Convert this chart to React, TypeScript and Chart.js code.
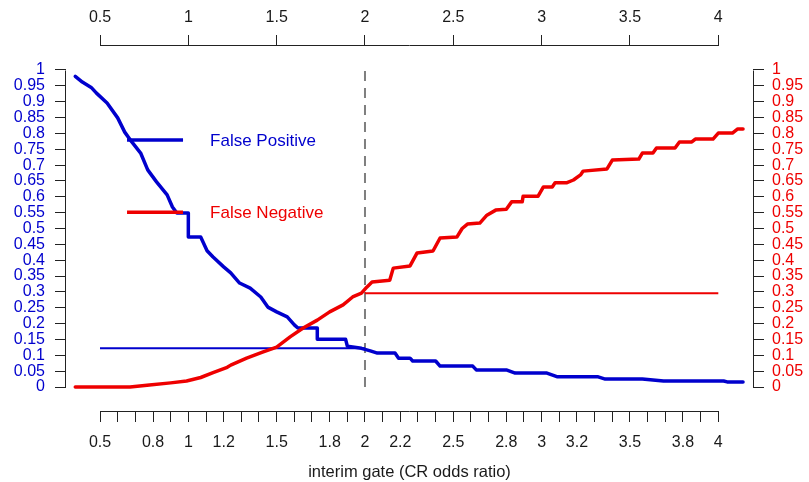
import React, { useEffect, useRef } from 'react';
import { Chart, registerables } from 'chart.js';

Chart.register(...registerables);

// ---------- data ----------
const FP_X = [0.36, 0.40, 0.45, 0.48, 0.54, 0.60, 0.64, 0.68, 0.73, 0.77, 0.82, 0.88, 0.91, 0.935, 1.0, 1.0, 1.07, 1.106, 1.14, 1.20, 1.24, 1.29, 1.35, 1.41, 1.45, 1.50, 1.56, 1.60, 1.62, 1.73, 1.73, 1.89, 1.90, 1.98, 2.03, 2.07, 2.17, 2.19, 2.255, 2.27, 2.40, 2.425, 2.61, 2.63, 2.80, 2.85, 3.03, 3.09, 3.32, 3.36, 3.57, 3.69, 4.03, 4.05, 4.14];
const FP_Y = [0.98, 0.962, 0.945, 0.927, 0.896, 0.849, 0.804, 0.773, 0.738, 0.685, 0.647, 0.606, 0.568, 0.549, 0.549, 0.473, 0.473, 0.43, 0.41, 0.379, 0.36, 0.328, 0.312, 0.284, 0.252, 0.237, 0.221, 0.196, 0.186, 0.186, 0.151, 0.151, 0.129, 0.122, 0.114, 0.107, 0.107, 0.091, 0.091, 0.082, 0.082, 0.066, 0.066, 0.054, 0.054, 0.044, 0.044, 0.032, 0.032, 0.025, 0.025, 0.019, 0.019, 0.016, 0.016];

const FN_X = [0.36, 0.67, 0.78, 0.90, 0.99, 1.07, 1.14, 1.22, 1.24, 1.33, 1.42, 1.50, 1.576, 1.65, 1.73, 1.80, 1.876, 1.93, 1.98, 2.01, 2.04, 2.14, 2.16, 2.255, 2.295, 2.385, 2.425, 2.52, 2.55, 2.58, 2.65, 2.69, 2.74, 2.80, 2.83, 2.89, 2.895, 2.98, 3.01, 3.06, 3.076, 3.14, 3.18, 3.22, 3.235, 3.37, 3.40, 3.55, 3.57, 3.63, 3.65, 3.755, 3.78, 3.85, 3.87, 3.97, 4.0, 4.08, 4.11, 4.14];
const FN_Y = [0.0, 0.0, 0.006, 0.013, 0.019, 0.03, 0.045, 0.062, 0.069, 0.091, 0.11, 0.126, 0.158, 0.186, 0.211, 0.237, 0.259, 0.284, 0.296, 0.315, 0.331, 0.337, 0.375, 0.382, 0.423, 0.429, 0.47, 0.473, 0.50, 0.514, 0.517, 0.542, 0.558, 0.561, 0.584, 0.584, 0.602, 0.602, 0.631, 0.631, 0.644, 0.644, 0.653, 0.669, 0.681, 0.688, 0.716, 0.719, 0.738, 0.738, 0.754, 0.754, 0.773, 0.773, 0.782, 0.782, 0.801, 0.801, 0.814, 0.814];

const GATE = 2;
const FP_AT_GATE = 0.122;
const FN_AT_GATE = 0.296;
const FP_REF_X = [0.5, 2];
const FN_REF_X = [2, 4];
const GATE_Y = [0, 1];

const Y_TICKS = [0, 0.05, 0.1, 0.15, 0.2, 0.25, 0.3, 0.35, 0.4, 0.45, 0.5, 0.55, 0.6, 0.65, 0.7, 0.75, 0.8, 0.85, 0.9, 0.95, 1];
const TOP_TICKS = [0.5, 1, 1.5, 2, 2.5, 3, 3.5, 4];
const BOTTOM_TICKS = [0.5, 0.6, 0.7, 0.8, 0.9, 1, 1.1, 1.2, 1.3, 1.4, 1.5, 1.6, 1.7, 1.8, 1.9, 2, 2.1, 2.2, 2.3, 2.4, 2.5, 2.6, 2.7, 2.8, 2.9, 3, 3.1, 3.2, 3.3, 3.4, 3.5, 3.6, 3.7, 3.8, 3.9, 4];
const BOTTOM_LABELS = [0.5, 0.8, 1, 1.2, 1.5, 1.8, 2, 2.2, 2.5, 2.8, 3, 3.2, 3.5, 3.8, 4];

const SERIES_NAMES = ['False Positive', 'False Negative'];
const X_TITLE = 'interim gate (CR odds ratio)';

// ---------- styles ----------
const BLUE = '#0000CD';
const RED = '#EE0000';
const FONT = '"Liberation Sans", Arial, sans-serif';
const AXIS_COLOR = '#222222';

const X_MIN = 0.3075;
const X_MAX = 4.1964;
const Y_MIN = -0.0757;
const Y_MAX = 1.0757;

// legend anchor in data units
const LEGEND_X0 = 0.653;
const LEGEND_X1 = 0.97;
const LEGEND_TEXT_X = 1.123;
const LEGEND_Y = [0.779, 0.551];

const pts = (xs: number[], ys: number[]) => xs.map((x, i) => ({ x, y: ys[i] }));

const axisLinesPlugin = {
  id: 'axisLines',
  afterDraw(chart: any) {
    const { ctx, chartArea, scales } = chart;
    ctx.save();
    ctx.strokeStyle = AXIS_COLOR;
    ctx.lineWidth = 1;
    const yb = Math.round(chartArea.bottom) + 0.5;
    const yt = Math.round(chartArea.top) - 0.5;
    const xl = Math.round(chartArea.left) - 0.5;
    const xr = Math.round(chartArea.right) + 0.5;
    ctx.beginPath();
    ctx.moveTo(Math.round(scales.x.getPixelForValue(BOTTOM_TICKS[0])) + 0.5, yb);
    ctx.lineTo(Math.round(scales.x.getPixelForValue(BOTTOM_TICKS[BOTTOM_TICKS.length - 1])) + 0.5, yb);
    ctx.moveTo(Math.round(scales.x2.getPixelForValue(TOP_TICKS[0])) + 0.5, yt);
    ctx.lineTo(Math.round(scales.x2.getPixelForValue(TOP_TICKS[TOP_TICKS.length - 1])) + 0.5, yt);
    ctx.moveTo(xl, Math.round(scales.y.getPixelForValue(Y_TICKS[0])) + 0.5);
    ctx.lineTo(xl, Math.round(scales.y.getPixelForValue(Y_TICKS[Y_TICKS.length - 1])) + 0.5);
    ctx.moveTo(xr, Math.round(scales.y2.getPixelForValue(Y_TICKS[0])) + 0.5);
    ctx.lineTo(xr, Math.round(scales.y2.getPixelForValue(Y_TICKS[Y_TICKS.length - 1])) + 0.5);
    ctx.stroke();
    ctx.restore();
  },
};

const legendPlugin = {
  id: 'inPlotLegend',
  afterDatasetsDraw(chart: any) {
    const { ctx, scales } = chart;
    const colors = [BLUE, RED];
    ctx.save();
    SERIES_NAMES.forEach((name, i) => {
      const py = scales.y.getPixelForValue(LEGEND_Y[i]);
      ctx.strokeStyle = colors[i];
      ctx.lineWidth = 3.5;
      ctx.beginPath();
      ctx.moveTo(scales.x.getPixelForValue(LEGEND_X0), py);
      ctx.lineTo(scales.x.getPixelForValue(LEGEND_X1), py);
      ctx.stroke();
      ctx.fillStyle = colors[i];
      ctx.font = `17px ${FONT}`;
      ctx.textAlign = 'left';
      ctx.textBaseline = 'middle';
      ctx.fillText(name, scales.x.getPixelForValue(LEGEND_TEXT_X), py + 1);
    });
    ctx.restore();
  },
};

export default function App() {
  const canvasRef = useRef<HTMLCanvasElement | null>(null);

  useEffect(() => {
    if (!canvasRef.current) return;
    const tickFont = { family: FONT, size: 16 };
    const curve = {
      showLine: true,
      borderWidth: 3.5,
      pointRadius: 0,
      borderJoinStyle: 'round',
      borderCapStyle: 'round',
      xAxisID: 'x',
      yAxisID: 'y',
    };
    const chart = new Chart(canvasRef.current, {
      type: 'scatter',
      data: {
        datasets: [
          { ...curve, label: SERIES_NAMES[1], data: pts(FN_X, FN_Y), borderColor: RED, backgroundColor: RED },
          { ...curve, label: SERIES_NAMES[0], data: pts(FP_X, FP_Y), borderColor: BLUE, backgroundColor: BLUE },
          {
            label: 'FP at gate',
            data: FP_REF_X.map((x) => ({ x, y: FP_AT_GATE })),
            showLine: true,
            borderColor: BLUE,
            borderWidth: 2,
            pointRadius: 0,
            xAxisID: 'x',
            yAxisID: 'y',
          },
          {
            label: 'FN at gate',
            data: FN_REF_X.map((x) => ({ x, y: FN_AT_GATE })),
            showLine: true,
            borderColor: RED,
            borderWidth: 2,
            pointRadius: 0,
            xAxisID: 'x',
            yAxisID: 'y',
          },
          {
            label: 'gate',
            data: GATE_Y.map((y) => ({ x: GATE, y })),
            showLine: true,
            borderColor: '#7f7f7f',
            borderWidth: 2,
            borderDash: [10, 7],
            pointRadius: 0,
            xAxisID: 'x',
            yAxisID: 'y',
          },
        ],
      },
      options: {
        animation: false,
        responsive: false,
        devicePixelRatio: 1,
        layout: { padding: 0 },
        plugins: {
          legend: { display: false },
          tooltip: { enabled: false },
        },
        scales: {
          x: {
            type: 'linear',
            position: 'bottom',
            min: X_MIN,
            max: X_MAX,
            afterBuildTicks: (s: any) => {
              s.ticks = BOTTOM_TICKS.map((v) => ({ value: v }));
            },
            afterFit: (s: any) => {
              s.height = 71;
            },
            grid: { display: true, drawOnChartArea: false, drawTicks: true, tickLength: 11, tickColor: AXIS_COLOR, tickWidth: 1 },
            border: { display: false },
            ticks: {
              autoSkip: false,
              maxRotation: 0,
              padding: 11,
              color: '#1a1a1a',
              font: tickFont,
              callback: (v: any) => (BOTTOM_LABELS.includes(v) ? String(v) : ''),
            },
            title: {
              display: true,
              text: X_TITLE,
              color: '#1a1a1a',
              font: { family: FONT, size: 16.5 },
              padding: { top: 0, bottom: 0 },
            },
          },
          x2: {
            type: 'linear',
            position: 'top',
            min: X_MIN,
            max: X_MAX,
            afterBuildTicks: (s: any) => {
              s.ticks = TOP_TICKS.map((v) => ({ value: v }));
            },
            afterFit: (s: any) => {
              s.height = 46;
            },
            grid: { display: true, drawOnChartArea: false, drawTicks: true, tickLength: 11, tickColor: AXIS_COLOR, tickWidth: 1 },
            border: { display: false },
            ticks: {
              autoSkip: false,
              maxRotation: 0,
              padding: 8,
              color: '#1a1a1a',
              font: tickFont,
              callback: (v: any) => String(v),
            },
          },
          y: {
            type: 'linear',
            position: 'left',
            min: Y_MIN,
            max: Y_MAX,
            afterBuildTicks: (s: any) => {
              s.ticks = Y_TICKS.map((v) => ({ value: v }));
            },
            afterFit: (s: any) => {
              s.width = 66;
            },
            grid: { display: true, drawOnChartArea: false, drawTicks: true, tickLength: 11, tickColor: AXIS_COLOR, tickWidth: 1 },
            border: { display: false },
            ticks: {
              autoSkip: false,
              padding: 10,
              color: BLUE,
              font: tickFont,
              callback: (v: any) => String(v),
            },
          },
          y2: {
            type: 'linear',
            position: 'right',
            min: Y_MIN,
            max: Y_MAX,
            afterBuildTicks: (s: any) => {
              s.ticks = Y_TICKS.map((v) => ({ value: v }));
            },
            afterFit: (s: any) => {
              s.width = 56;
            },
            grid: { display: true, drawOnChartArea: false, drawTicks: true, tickLength: 11, tickColor: AXIS_COLOR, tickWidth: 1 },
            border: { display: false },
            ticks: {
              autoSkip: false,
              padding: 8,
              color: RED,
              font: tickFont,
              callback: (v: any) => String(v),
            },
          },
        },
      },
      plugins: [axisLinesPlugin, legendPlugin],
    } as any);
    return () => chart.destroy();
  }, []);

  return (
    <div style={{ position: 'fixed', left: 0, top: 0, width: 809, height: 482, background: '#ffffff' }}>
      <canvas ref={canvasRef} width={809} height={482} style={{ display: 'block', width: 809, height: 482 }} />
    </div>
  );
}
